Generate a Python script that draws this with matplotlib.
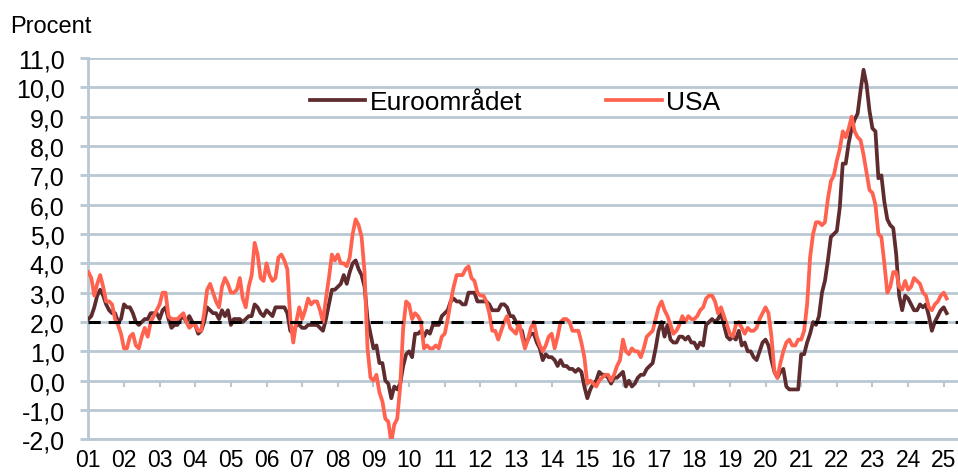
import matplotlib
matplotlib.use("Agg")
import matplotlib.pyplot as plt
import numpy as np

plt.rcParams['font.family'] = ['Liberation Sans', 'DejaVu Sans']

# monthly inflation, Jan 2001 - Feb 2025
euro = [
    2.1, 2.2, 2.5, 2.9, 3.1, 2.9, 2.6, 2.4, 2.3, 2.3, 2.0, 2.1,  # 2001
    2.6, 2.5, 2.5, 2.3, 2.0, 1.9, 2.0, 2.1, 2.1, 2.3, 2.3, 2.3,  # 2002
    2.1, 2.4, 2.5, 2.1, 1.8, 1.9, 1.9, 2.1, 2.2, 2.0, 2.2, 2.0,  # 2003
    1.9, 1.6, 1.7, 2.0, 2.5, 2.4, 2.3, 2.3, 2.1, 2.4, 2.2, 2.4,  # 2004
    1.9, 2.1, 2.1, 2.1, 2.0, 2.1, 2.2, 2.2, 2.6, 2.5, 2.3, 2.2,  # 2005
    2.4, 2.3, 2.2, 2.5, 2.5, 2.5, 2.5, 2.3, 1.7, 1.6, 1.9, 1.9,  # 2006
    1.8, 1.8, 1.9, 1.9, 1.9, 1.9, 1.8, 1.7, 2.1, 2.6, 3.1, 3.1,  # 2007
    3.2, 3.3, 3.6, 3.3, 3.7, 4.0, 4.1, 3.8, 3.6, 3.2, 2.1, 1.6,  # 2008
    1.1, 1.2, 0.6, 0.6, 0.0, -0.1, -0.6, -0.2, -0.3, -0.1, 0.5, 0.9,  # 2009
    1.0, 0.8, 1.6, 1.6, 1.7, 1.5, 1.7, 1.6, 1.9, 1.9, 1.9, 2.2,  # 2010
    2.3, 2.4, 2.7, 2.8, 2.7, 2.7, 2.6, 2.6, 3.0, 3.0, 3.0, 2.7,  # 2011
    2.7, 2.7, 2.7, 2.6, 2.4, 2.4, 2.4, 2.6, 2.6, 2.5, 2.2, 2.2,  # 2012
    2.0, 1.8, 1.7, 1.2, 1.4, 1.6, 1.6, 1.3, 1.1, 0.7, 0.9, 0.8,  # 2013
    0.8, 0.7, 0.5, 0.7, 0.5, 0.5, 0.4, 0.4, 0.3, 0.4, 0.3, -0.2,  # 2014
    -0.6, -0.3, -0.1, 0.0, 0.3, 0.2, 0.2, 0.1, -0.1, 0.1, 0.1, 0.2,  # 2015
    0.3, -0.2, 0.0, -0.2, -0.1, 0.1, 0.2, 0.2, 0.4, 0.5, 0.6, 1.1,  # 2016
    1.7, 2.0, 1.5, 1.9, 1.4, 1.3, 1.3, 1.5, 1.5, 1.4, 1.5, 1.3,  # 2017
    1.3, 1.1, 1.3, 1.2, 1.9, 2.0, 2.1, 2.0, 2.1, 2.3, 1.9, 1.5,  # 2018
    1.4, 1.5, 1.4, 1.7, 1.2, 1.3, 1.0, 1.0, 0.8, 0.7, 1.0, 1.3,  # 2019
    1.4, 1.2, 0.7, 0.3, 0.1, 0.3, 0.4, -0.2, -0.3, -0.3, -0.3, -0.3,  # 2020
    0.9, 0.9, 1.3, 1.6, 2.0, 1.9, 2.2, 3.0, 3.4, 4.1, 4.9, 5.0,  # 2021
    5.1, 5.9, 7.4, 7.4, 8.1, 8.6, 8.9, 9.1, 9.9, 10.6, 10.1, 9.2,  # 2022
    8.6, 8.5, 6.9, 7.0, 6.1, 5.5, 5.3, 5.2, 4.3, 2.9, 2.4, 2.9,  # 2023
    2.8, 2.6, 2.4, 2.4, 2.6, 2.5, 2.6, 2.2, 1.7, 2.0, 2.2, 2.4,  # 2024
    2.5, 2.3,  # 2025
]

usa = [
    3.7, 3.5, 2.9, 3.3, 3.6, 3.2, 2.7, 2.7, 2.6, 2.1, 1.9, 1.6,  # 2001
    1.1, 1.1, 1.5, 1.6, 1.2, 1.1, 1.5, 1.8, 1.5, 2.0, 2.2, 2.4,  # 2002
    2.6, 3.0, 3.0, 2.2, 2.1, 2.1, 2.1, 2.2, 2.3, 2.0, 1.8, 1.9,  # 2003
    1.9, 1.7, 1.7, 2.3, 3.1, 3.3, 3.0, 2.7, 2.5, 3.2, 3.5, 3.3,  # 2004
    3.0, 3.0, 3.1, 3.5, 2.8, 2.5, 3.2, 3.6, 4.7, 4.3, 3.5, 3.4,  # 2005
    4.0, 3.6, 3.4, 3.5, 4.2, 4.3, 4.1, 3.8, 2.1, 1.3, 2.0, 2.5,  # 2006
    2.1, 2.4, 2.8, 2.6, 2.7, 2.7, 2.4, 2.0, 2.8, 3.5, 4.3, 4.1,  # 2007
    4.3, 4.0, 4.0, 3.9, 4.2, 5.0, 5.5, 5.3, 4.9, 3.7, 1.1, 0.1,  # 2008
    0.0, 0.2, -0.4, -0.7, -1.3, -1.4, -2.1, -1.5, -1.3, -0.2, 1.8, 2.7,  # 2009
    2.6, 2.1, 2.3, 2.2, 2.0, 1.1, 1.2, 1.1, 1.1, 1.2, 1.1, 1.5,  # 2010
    1.6, 2.1, 2.7, 3.2, 3.6, 3.6, 3.6, 3.8, 3.9, 3.5, 3.4, 3.0,  # 2011
    2.9, 2.9, 2.7, 2.3, 1.7, 1.7, 1.4, 1.7, 2.0, 2.2, 1.8, 1.7,  # 2012
    1.6, 2.0, 1.5, 1.1, 1.4, 1.8, 2.0, 1.5, 1.2, 1.0, 1.2, 1.5,  # 2013
    1.6, 1.1, 1.5, 2.0, 2.1, 2.1, 2.0, 1.7, 1.7, 1.7, 1.3, 0.8,  # 2014
    -0.1, 0.0, -0.1, -0.2, 0.0, 0.1, 0.2, 0.2, 0.0, 0.2, 0.5, 0.7,  # 2015
    1.4, 1.0, 0.9, 1.1, 1.0, 1.0, 0.8, 1.1, 1.5, 1.6, 1.7, 2.1,  # 2016
    2.5, 2.7, 2.4, 2.2, 1.9, 1.6, 1.7, 1.9, 2.2, 2.0, 2.2, 2.1,  # 2017
    2.1, 2.2, 2.4, 2.5, 2.8, 2.9, 2.9, 2.7, 2.3, 2.5, 2.2, 1.9,  # 2018
    1.6, 1.5, 1.9, 2.0, 1.8, 1.6, 1.8, 1.7, 1.7, 1.8, 2.1, 2.3,  # 2019
    2.5, 2.3, 1.5, 0.3, 0.1, 0.6, 1.0, 1.3, 1.4, 1.2, 1.2, 1.4,  # 2020
    1.4, 1.7, 2.6, 4.2, 5.0, 5.4, 5.4, 5.3, 5.4, 6.2, 6.8, 7.0,  # 2021
    7.5, 7.9, 8.5, 8.3, 8.6, 9.0, 8.5, 8.3, 8.2, 7.7, 7.1, 6.5,  # 2022
    6.4, 6.0, 5.0, 4.9, 4.0, 3.0, 3.2, 3.7, 3.7, 3.2, 3.1, 3.4,  # 2023
    3.1, 3.2, 3.5, 3.4, 3.3, 3.0, 2.9, 2.5, 2.4, 2.6, 2.7, 2.9,  # 2024
    3.0, 2.8,  # 2025
]

target = 2.0
years = list(range(2001, 2026))
year_labels = ['%02d' % (y % 100) for y in years]
y_ticks = list(range(-2, 12))
y_labels = ['%d,0' % v for v in y_ticks]

grid_c = '#B9C8D2'
euro_c = '#5E2B2E'
usa_c = '#FF634F'

t = 2001 + np.arange(len(euro)) / 12

fig = plt.figure(figsize=(9.58, 4.77), dpi=100)
ax = fig.add_axes([0.0922, 0.0769, 0.9078, 0.7994])

ax.plot(t, euro, color=euro_c, lw=2.7, label='Euroområdet', zorder=3)
ax.plot(t, usa, color=usa_c, lw=2.7, label='USA', zorder=4)
ax.axhline(target, color='black', lw=2.2, dashes=(4, 2.6), zorder=5)

ax.set_xlim(2001, 2025.4)
ax.set_ylim(-2, 11)
ax.set_yticks(y_ticks)
ax.set_yticklabels(y_labels)
ax.set_xticks(years)
ax.set_xticklabels(year_labels)

ax.yaxis.grid(True, color=grid_c, lw=2)
ax.set_axisbelow(True)
for s in ['top', 'right']:
    ax.spines[s].set_visible(False)
for s in ['left', 'bottom']:
    ax.spines[s].set_color(grid_c)
    ax.spines[s].set_linewidth(2)

ax.tick_params(axis='y', length=6, width=2, color=grid_c, pad=11, labelsize=18)
ax.tick_params(axis='x', length=0, pad=6, labelsize=16.5)

# ticks sitting on the zero line
sec = ax.secondary_xaxis(2 / 13)
sec.set_xticks(years[1:])
sec.tick_params(direction='out', length=4.5, width=1.5, color=grid_c, labelbottom=False)
for s in sec.spines.values():
    s.set_visible(False)

leg = fig.legend(loc='center left', bbox_to_anchor=(310 / 958, 1 - 103 / 477),
                 ncol=2, frameon=False, fontsize=19, handlelength=2.1,
                 handletextpad=0.15, columnspacing=3.2, borderpad=0, borderaxespad=0)

fig.text(10 / 958, 1 - 33 / 477, 'Procent', fontsize=17, va='baseline', ha='left')

fig.savefig('out.png', dpi=100)
